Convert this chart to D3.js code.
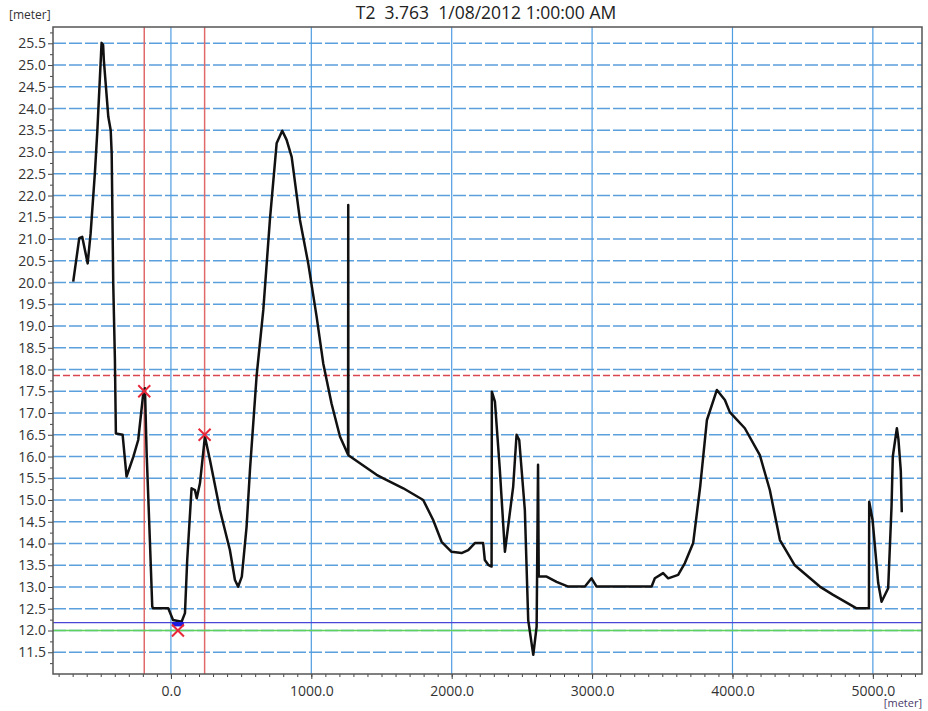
<!DOCTYPE html>
<html>
<head>
<meta charset="utf-8">
<script src="https://cdn.jsdelivr.net/npm/d3@7"></script>
<style>
  body { margin: 0; background: #fff; }
  text { font-family: "Open Sans", "DejaVu Sans", sans-serif; }
</style>
</head>
<body>
<svg id="svgProfile" width="928" height="711"></svg>
<script>
// long profile, chainage vs level
var chainage = [-696, -653, -632, -593, -572, -541, -524, -501, -494, -483, -478, -446, -429, -422, -411,
  -399, -392, -344, -316, -268, -233, -197, -185, -173, -150, -133, -126, -19, 15, 76, 100, 116, 147, 171,
  184, 207, 242, 278, 349, 420, 456, 479, 505, 539, 563, 610, 658, 705, 753, 793, 824, 860, 919, 978, 1038,
  1085, 1144, 1204, 1262, 1263, 1264, 1465, 1513, 1655, 1797, 1868, 1928, 1999, 2070, 2118, 2165, 2224,
  2236, 2260, 2284, 2286, 2308, 2343, 2379, 2438, 2462, 2481, 2521, 2545, 2581, 2605, 2615, 2620, 2676,
  2747, 2830, 2949, 2996, 3032, 3424, 3447, 3506, 3542, 3613, 3661, 3720, 3770, 3818, 3889, 3946, 3981,
  4088, 4195, 4266, 4338, 4444, 4622, 4717, 4884, 4972, 4974, 4998, 5038, 5062, 5109, 5133, 5142, 5171,
  5182, 5199, 5206];
var level = [20.02, 21.02, 21.05, 20.44, 21.13, 22.55, 23.5, 25.04, 25.51, 25.46, 25.12, 23.81, 23.5, 22.97, 19.99,
  18.22, 16.53, 16.5, 15.54, 15.99, 16.38, 17.45, 17.57, 16.08, 14.08, 12.55, 12.51, 12.51, 12.24, 12.2, 12.4, 13.62, 15.27, 15.23,
  15.04, 15.39, 16.46, 15.92, 14.77, 13.85, 13.16, 13.01, 13.24, 14.39, 15.69, 17.84, 19.37, 21.44, 23.2, 23.49, 23.28, 22.89, 21.44, 20.44, 19.21,
  18.14, 17.22, 16.46, 16.04, 21.78, 16.03, 15.58, 15.5, 15.27, 15.0, 14.54, 14.04, 13.81, 13.78, 13.85, 14.01, 14.01,
  13.62, 13.51, 13.47, 17.49, 17.26, 15.69, 13.81, 15.31, 16.5, 16.38, 14.77, 12.24, 11.44, 12.09, 15.81, 13.24, 13.24,
  13.12, 13.01, 13.01, 13.2, 13.01, 13.01, 13.2, 13.32, 13.2, 13.28, 13.55, 14.01, 15.31, 16.84, 17.53, 17.3, 17.02,
  16.65, 16.03, 15.23, 14.08, 13.5, 13.01, 12.82, 12.51, 12.51, 14.96, 14.54, 13.09, 12.66, 12.97, 14.85, 16.0, 16.65,
  16.4, 15.67, 14.72];

// markers
var crossX = [-190, 240, 50];
var crossY = [17.5, 16.5, 12.0];
var redLinesX = [-190, 240];
var redLevel = 17.86;
var blueLevel = 12.18;
var greenLevel = 12.0;
var blueSegX = [8, 92];

var xTicks = [0, 1000, 2000, 3000, 4000, 5000];
var yTicks = d3.range(11.5, 25.51, 0.5);
var titleText = "T2  3.763  1/08/2012 1:00:00 AM";

var margin = {top: 27, right: 6, bottom: 37, left: 53};
var width = 928 - margin.left - margin.right;
var height = 711 - margin.top - margin.bottom;

var svg = d3.select("#svgProfile");
var chart = svg.append("g")
  .attr("transform", "translate(" + margin.left + "," + margin.top + ")");

var x = d3.scaleLinear().domain([-840, 5350]).range([0, width]);
var y = d3.scaleLinear().domain([11.0, 25.875]).range([height, 0]);

// grid
chart.append("g").selectAll("line")
  .data(yTicks)
  .enter().append("line")
  .attr("x1", 0).attr("x2", width)
  .attr("y1", d => y(d)).attr("y2", d => y(d))
  .attr("stroke", "#5b9fdc")
  .attr("stroke-width", 1.6)
  .attr("stroke-dasharray", "13,3");

chart.append("g").selectAll("line")
  .data(xTicks)
  .enter().append("line")
  .attr("x1", d => x(d)).attr("x2", d => x(d))
  .attr("y1", 0).attr("y2", height)
  .attr("stroke", "#4f9de2")
  .attr("stroke-width", 1.2);

// reference lines
chart.selectAll(".redv")
  .data(redLinesX)
  .enter().append("line")
  .attr("class", "redv")
  .attr("x1", d => x(d)).attr("x2", d => x(d))
  .attr("y1", 0).attr("y2", height)
  .attr("stroke", "#e06a6a")
  .attr("stroke-width", 1.5);

chart.append("line")
  .attr("x1", 0).attr("x2", width)
  .attr("y1", y(redLevel)).attr("y2", y(redLevel))
  .attr("stroke", "#d9464e")
  .attr("stroke-width", 1.5)
  .attr("stroke-dasharray", "7,3");

chart.append("line")
  .attr("x1", 0).attr("x2", width)
  .attr("y1", y(blueLevel)).attr("y2", y(blueLevel))
  .attr("stroke", "#4a44d8")
  .attr("stroke-width", 1.3);

chart.append("line")
  .attr("x1", 0).attr("x2", width)
  .attr("y1", y(greenLevel)).attr("y2", y(greenLevel))
  .attr("stroke", "#5ed25a")
  .attr("stroke-width", 1.6);

// profile
var points = chainage.map((c, i) => [c, level[i]]);
chart.append("path")
  .datum(points)
  .attr("fill", "none")
  .attr("stroke", "#111")
  .attr("stroke-width", 2.5)
  .attr("stroke-linejoin", "round")
  .attr("d", d3.line().x(d => x(d[0])).y(d => y(d[1])));

chart.append("line")
  .attr("x1", x(blueSegX[0])).attr("x2", x(blueSegX[1]))
  .attr("y1", y(blueLevel) + 1.5).attr("y2", y(blueLevel) + 1.5)
  .attr("stroke", "#1a1ae0")
  .attr("stroke-width", 4.5);

// crosses
var cross = chart.append("g").selectAll("g")
  .data(crossX.map((c, i) => [c, crossY[i]]))
  .enter().append("g")
  .attr("transform", d => "translate(" + x(d[0]) + "," + y(d[1]) + ")");
cross.append("path")
  .attr("d", "M-6,-6L6,6M-6,6L6,-6")
  .attr("stroke", "#e8283a")
  .attr("stroke-width", 2);

// axes
chart.append("g")
  .call(d3.axisLeft(y).tickValues(yTicks).tickFormat(d3.format(".1f")).tickSize(5).tickPadding(2));
chart.append("g")
  .call(d3.axisLeft(y).tickValues(d3.range(11.25, 25.8, 0.5)).tickFormat("").tickSize(3));

chart.append("g")
  .attr("transform", "translate(0," + height + ")")
  .call(d3.axisBottom(x).tickValues(xTicks).tickFormat(d3.format(".1f")).tickSize(5).tickPadding(7));
chart.append("g")
  .attr("transform", "translate(0," + height + ")")
  .call(d3.axisBottom(x).tickValues(d3.range(-800, 5350, 100)).tickFormat("").tickSize(3));

chart.selectAll(".domain").remove();
chart.selectAll(".tick line").attr("stroke", "#444");
chart.selectAll(".tick text").attr("fill", "#333").attr("font-size", 14)
  .style("font-family", "'Open Sans', sans-serif");

chart.append("rect")
  .attr("width", width).attr("height", height)
  .attr("fill", "none")
  .attr("stroke", "#555")
  .attr("stroke-width", 1.5);

// labels
svg.append("text")
  .attr("x", 486).attr("y", 19)
  .attr("text-anchor", "middle")
  .attr("font-size", 17.5)
  .attr("fill", "#222")
  .style("white-space", "pre")
  .text(titleText);

svg.append("text")
  .attr("x", 9).attr("y", 19)
  .attr("font-size", 12)
  .attr("fill", "#333")
  .text("[meter]");

svg.append("text")
  .attr("x", 922).attr("y", 707)
  .attr("text-anchor", "end")
  .attr("font-size", 11)
  .attr("fill", "#4a3a6a")
  .text("[meter]");
</script>
</body>
</html>
